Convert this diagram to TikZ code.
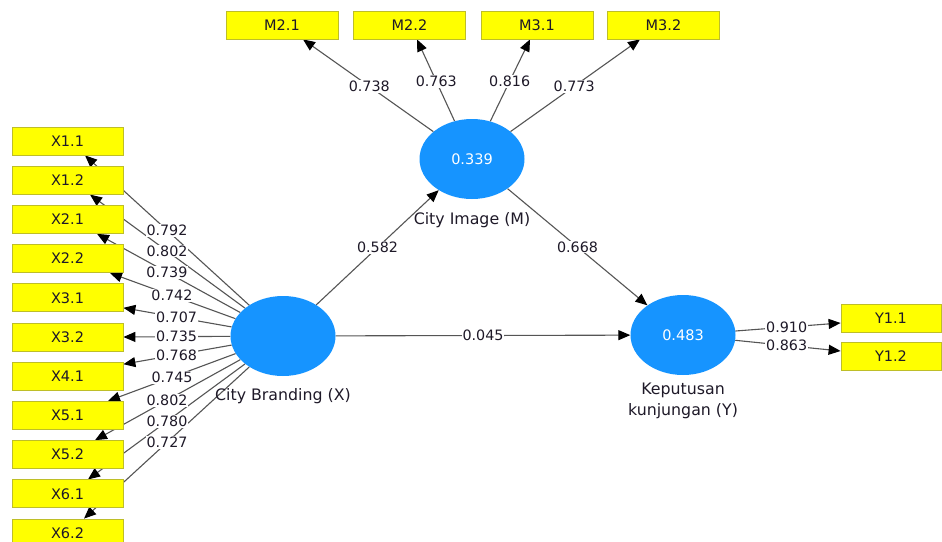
\documentclass[tikz,border=0pt]{standalone}
\usepackage{fontspec}
\setmainfont{DejaVu Sans}
\usetikzlibrary{arrows.meta,calc,shapes.geometric}
\pgfdeclarelayer{back}
\pgfdeclarelayer{bg}
\pgfsetlayers{back,bg,main}
\definecolor{lvblue}{RGB}{22,148,255}
\definecolor{indyel}{RGB}{255,255,0}
\definecolor{indborder}{RGB}{190,190,40}
\definecolor{linegray}{RGB}{85,85,85}
\definecolor{txt}{RGB}{30,25,40}
\begin{document}
\begin{tikzpicture}[x=1pt,y=-1pt,
 ind/.style={draw=indborder, fill=indyel, line width=0.8pt, minimum width=111pt, minimum height=28pt, inner sep=0pt, font=\fontsize{14.5}{16}\selectfont, text=txt},
 lv/.style={ellipse, fill=lvblue, draw=none, minimum width=105pt, minimum height=80pt, inner sep=0pt, text=white, font=\fontsize{14.5}{16}\selectfont},
 lvname/.style={font=\fontsize{15.8}{21}\selectfont, text=txt, align=center},
 conn/.style={draw=linegray, line width=1.1pt, -{Triangle[length=12pt,width=10pt,color=black]}},
 coef/.style={fill=white, inner sep=1pt, font=\fontsize{14.3}{16}\selectfont, text=txt}
]
\useasboundingbox (0,0) rectangle (942,541);
\begin{pgfonlayer}{back}
\fill[white] (0,0) rectangle (942,541);
\end{pgfonlayer}
\clip (0,0) rectangle (942,541);

% latent variables
\node[lv] (CB) at (283,336) {};
\node[lv] (CI) at (472,159) {0.339};
\node[lv] (KY) at (683,335) {0.483};
\node[lvname] (CBn) at (283,396) {City Branding (X)};
\node[lvname] (CIn) at (472,220) {City Image (M)};
\node[lvname] (KYn) at (683,401) {Keputusan\\kunjungan (Y)};

% X indicators
\node[ind] (X11) at (67.5,141) {X1.1};
\node[ind] (X12) at (67.5,180.2) {X1.2};
\node[ind] (X21) at (67.5,219.4) {X2.1};
\node[ind] (X22) at (67.5,258.6) {X2.2};
\node[ind] (X31) at (67.5,297.8) {X3.1};
\node[ind] (X32) at (67.5,337) {X3.2};
\node[ind] (X41) at (67.5,376.2) {X4.1};
\node[ind] (X51) at (67.5,415.4) {X5.1};
\node[ind] (X52) at (67.5,454.6) {X5.2};
\node[ind] (X61) at (67.5,493.8) {X6.1};
\node[ind] (X62) at (67.5,533) {X6.2};

% M indicators
\node[ind, minimum width=112pt] (M21) at (282,25) {M2.1};
\node[ind, minimum width=112pt] (M22) at (409.5,25) {M2.2};
\node[ind, minimum width=112pt] (M31) at (537,25) {M3.1};
\node[ind, minimum width=112pt] (M32) at (663.5,25) {M3.2};

% Y indicators
\node[ind, minimum width=100pt] (Y11) at (891,318) {Y1.1};
\node[ind, minimum width=100pt] (Y12) at (891,356.5) {Y1.2};

% tip coordinates
\coordinate (tx1) at ($(X11.south)+(17.5,0)$);
\coordinate (tx2) at ($(X12.south)+(22.5,0)$);
\coordinate (tx3) at ($(X21.south)+(29.5,0)$);
\coordinate (tx4) at ($(X22.south)+(42.5,0)$);
\coordinate (tx5) at ($(X31.east)+(0,10)$);
\coordinate (tx6) at ($(X32.east)$);
\coordinate (tx7) at ($(X41.east)+(0,-12)$);
\coordinate (tx8) at ($(X51.north)+(40.5,0)$);
\coordinate (tx9) at ($(X52.north)+(27.5,0)$);
\coordinate (tx10) at ($(X61.north)+(20.5,0)$);
\coordinate (tx11) at ($(X62.north)+(16.5,0)$);
\coordinate (tm1) at ($(M21.south)+(21,0)$);
\coordinate (tm2) at ($(M22.south)+(7.5,0)$);
\coordinate (tm3) at ($(M31.south)+(-7,0)$);
\coordinate (tm4) at ($(M32.south)+(-23.5,0)$);
\coordinate (ty1) at ($(Y11.west)+(0,5)$);
\coordinate (ty2) at ($(Y12.west)+(0,-5.5)$);

\begin{pgfonlayer}{bg}
\foreach \t in {tx1,tx2,tx3,tx4,tx5,tx6,tx7,tx8,tx9,tx10,tx11}{\draw[conn] (CB) -- (\t);}
\foreach \t in {tm1,tm2,tm3,tm4}{\draw[conn] (CI) -- (\t);}
\foreach \t in {ty1,ty2}{\draw[conn] (KY) -- (\t);}
\draw[conn] (CB) -- (CI);
\draw[conn] (CI) -- (KY);
\draw[conn] (CB) -- (KY);
\end{pgfonlayer}

% coefficients
\node[coef] (c1) at ($(CB.center)!0.586!(tx1)$) {0.792};
\node[coef] (c2) at ($(CB.center)!0.601!(tx2)$) {0.802};
\node[coef] (c3) at ($(CB.center)!0.624!(tx3)$) {0.739};
\node[coef] (c4) at ($(CB.center)!0.642!(tx4)$) {0.742};
\node[coef] (c5) at ($(CB.center)!0.667!(tx5)$) {0.707};
\node[coef] (c6) at ($(CB.center)!0.667!(tx6)$) {0.735};
\node[coef] (c7) at ($(CB.center)!0.667!(tx7)$) {0.768};
\node[coef] (c8) at ($(CB.center)!0.634!(tx8)$) {0.745};
\node[coef] (c9) at ($(CB.center)!0.617!(tx9)$) {0.802};
\node[coef] (c10) at ($(CB.center)!0.595!(tx10)$) {0.780};
\node[coef] (c11) at ($(CB.center)!0.583!(tx11)$) {0.727};
\node[coef] (cm1) at ($(CI.center)!0.608!(tm1)$) {0.738};
\node[coef] (cm2) at ($(CI.center)!0.65!(tm2)$) {0.763};
\node[coef] (cm3) at ($(CI.center)!0.65!(tm3)$) {0.816};
\node[coef] (cm4) at ($(CI.center)!0.608!(tm4)$) {0.773};
\node[coef] (cy1) at ($(KY.center)!0.658!(ty1)$) {0.910};
\node[coef] (cy2) at ($(KY.center)!0.658!(ty2)$) {0.863};
\node[coef] (s1) at ($(CB.center)!0.5!(CI.center)$) {0.582};
\node[coef] (s2) at ($(CI.center)!0.5!(KY.center)$) {0.668};
\node[coef] (s3) at ($(CB.center)!0.5!(KY.center)$) {0.045};
\end{tikzpicture}
\end{document}
